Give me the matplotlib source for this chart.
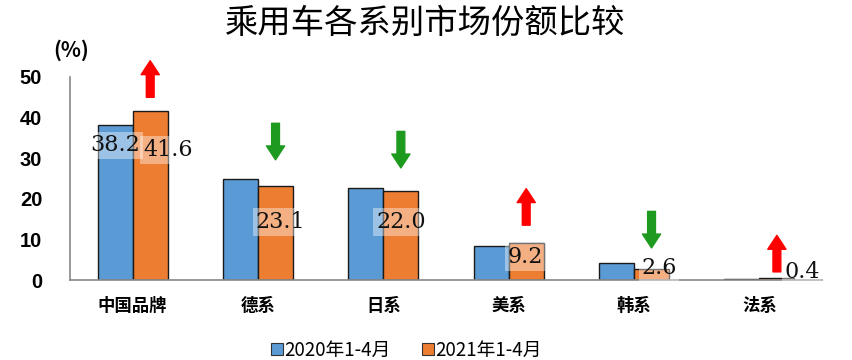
import matplotlib
matplotlib.use("Agg")
import matplotlib.pyplot as plt
import numpy as np
from matplotlib.lines import Line2D

plt.rcParams['font.family'] = ['Noto Sans CJK SC', 'DejaVu Sans']

categories = ["中国品牌", "德系", "日系", "美系", "韩系", "法系"]
series_names = ["2020年1-4月", "2021年1-4月"]
share_2020 = [38.2, 24.9, 22.7, 8.4, 4.2, 0.3]
share_2021 = [41.6, 23.1, 22.0, 9.2, 2.6, 0.4]
yticks = [0, 10, 20, 30, 40, 50]
title = "乘用车各系别市场份额比较"

# layout (annotation placement)
label_dx = [0.28, 0.18, 0.14, 0.13, 0.20, 0.34]
label_y = [32.0, 14.3, 14.3, 5.7, 3.0, 2.0]
arrow_low = [45.0, 29.6, 27.6, 13.5, 7.9, 2.0]
arrow_len = 9.0

blue = "#5B9BD5"
orange = "#ED7D31"
red = "#FF0000"
green = "#1E9A1E"

fig = plt.figure(figsize=(8.52, 3.6), dpi=100)
ax = fig.add_axes([70/852, 80/360, 752/852, 203/360])

x = np.arange(len(categories))
w = 0.28
ax.bar(x - w/2, share_2020, w, color=blue, edgecolor="#1a1a1a", linewidth=1.0, zorder=2)
ax.bar(x + w/2, share_2021, w, color=orange, edgecolor="#1a1a1a", linewidth=1.0, zorder=2)

ax.set_xlim(-0.5, len(categories) - 0.5)
ax.set_ylim(0, 50)
ax.set_yticks(yticks)
ax.set_yticklabels([str(t) for t in yticks], fontsize=14.5, fontweight="bold",
                   family=["Liberation Sans", "DejaVu Sans"])
ax.set_xticks(x)
ax.set_xticklabels(categories, fontsize=12.5, fontweight="bold")
ax.tick_params(axis="y", length=0, pad=20)
ax.tick_params(axis="x", length=0, pad=12)
for s in ["top", "right"]:
    ax.spines[s].set_visible(False)
ax.spines["left"].set_color("#888888")
ax.spines["bottom"].set_color("#888888")
ax.spines["left"].set_linewidth(1.2)
ax.spines["bottom"].set_linewidth(1.2)

box = dict(facecolor="white", alpha=0.4, edgecolor="none", pad=2)
lab_font = dict(fontsize=16, family=["DejaVu Serif"], color="#111111")
# 2020 label for first category
ax.text(x[0] - w/2, 33.2, f"{share_2020[0]:.1f}", ha="center", va="center",
        bbox=box, zorder=4, **lab_font)
for i, v in enumerate(share_2021):
    ax.text(x[i] + label_dx[i], label_y[i], f"{v:.1f}", ha="center", va="center",
            bbox=box, zorder=4, **lab_font)

for i in range(len(categories)):
    up = share_2021[i] > share_2020[i]
    lo, hi = arrow_low[i], arrow_low[i] + arrow_len
    tail, tip = (lo, hi) if up else (hi, lo)
    ax.annotate("", xy=(x[i] + 0.14, tip), xytext=(x[i] + 0.14, tail),
                arrowprops=dict(arrowstyle="simple,head_length=0.8,head_width=1.05,tail_width=0.45",
                                color=red if up else green, mutation_scale=12.5,
                                shrinkA=0, shrinkB=0),
                annotation_clip=False, zorder=5)

fig.text(425/852, 1 - 23/360, title, ha="center", va="center", fontsize=24, fontweight="medium")
fig.text(71/852, 1 - 50/360, "(%)", ha="center", va="center", fontsize=15, fontweight="bold")

handles = [Line2D([], [], marker="s", linestyle="none", markersize=8,
                  markerfacecolor=c, markeredgecolor="#333333", markeredgewidth=0.8)
           for c in (blue, orange)]
fig.legend(handles, series_names, loc="center", bbox_to_anchor=(406/852, 10/360),
           ncol=2, frameon=False, fontsize=13.5, handletextpad=0.05, columnspacing=1.6,
           handlelength=0.7)

fig.savefig("out.png", dpi=100)
